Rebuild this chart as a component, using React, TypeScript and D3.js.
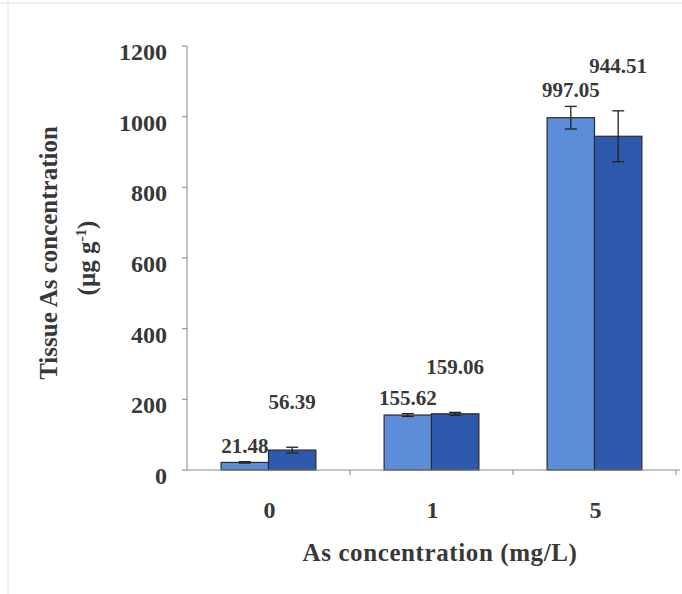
import React from 'react';
import * as d3 from 'd3';

// data
const categories = ['0', '1', '5'];
const seriesA = [21.48, 155.62, 997.05];
const seriesB = [56.39, 159.06, 944.51];
const errA = [2, 4, 32];
const errB = [8, 4, 72];
const yTicks = [0, 200, 400, 600, 800, 1000, 1200];

const W = 682;
const H = 594;
const margin = { top: 46, right: 6, bottom: 124, left: 187 };
const font = '"Liberation Serif", "Times New Roman", serif';
const textColor = '#383838';

const App = () => {
  const x = d3
    .scaleBand()
    .domain(categories)
    .range([margin.left, margin.left + 489]);

  const inner = d3
    .scaleBand()
    .domain(['A', 'B'])
    .range([0, x.bandwidth()])
    .paddingOuter(0.72)
    .paddingInner(0);

  const y = d3
    .scaleLinear()
    .domain([0, 1200])
    .range([H - margin.bottom, margin.top]);

  const series = [
    { key: 'A', values: seriesA, errs: errA, fill: '#5b8dd8', lift: 9 },
    { key: 'B', values: seriesB, errs: errB, fill: '#2e5aae', lift: 38 },
  ];

  const y0 = y(0);
  const boundaries = categories.map((c) => (x(c) as number) + x.bandwidth());

  return (
    <svg
      width={W}
      height={H}
      style={{ position: 'absolute', left: 0, top: 0, background: '#fff' }}
    >
      {/* faint frame from the scan */}
      <line x1={0} x2={W} y1={3} y2={3} stroke="#ddd" />
      <line x1={8} x2={8} y1={0} y2={H} stroke="#e4e4e4" />

      {/* y axis */}
      <line x1={margin.left} x2={margin.left} y1={y(1200)} y2={y0} stroke="#888" />
      {yTicks.map((t) => (
        <g key={t}>
          <line x1={margin.left - 5} x2={margin.left} y1={y(t)} y2={y(t)} stroke="#888" />
          <text
            x={margin.left - 20}
            y={y(t) + 14}
            textAnchor="end"
            fontFamily={font}
            fontWeight="bold"
            fontSize={24}
            fill={textColor}
          >
            {t}
          </text>
        </g>
      ))}

      {/* bars */}
      {series.map((s) =>
        categories.map((c, i) => {
          const bx = (x(c) as number) + (inner(s.key) as number);
          const bw = inner.bandwidth();
          const v = s.values[i];
          const e = s.errs[i];
          const cx = bx + bw / 2;
          return (
            <g key={s.key + c}>
              <rect
                x={bx}
                y={y(v)}
                width={bw}
                height={y0 - y(v)}
                fill={s.fill}
                stroke="#2a2a2a"
                strokeWidth={1.2}
              />
              <line x1={cx} x2={cx} y1={y(v + e)} y2={y(v - e)} stroke="#222" strokeWidth={1.3} />
              <line x1={cx - 6} x2={cx + 6} y1={y(v + e)} y2={y(v + e)} stroke="#222" strokeWidth={1.3} />
              <line x1={cx - 6} x2={cx + 6} y1={y(v - e)} y2={y(v - e)} stroke="#222" strokeWidth={1.3} />
              <text
                x={cx}
                y={y(v + e) - s.lift}
                textAnchor="middle"
                fontFamily={font}
                fontWeight="bold"
                fontSize={21}
                fill={textColor}
              >
                {v.toFixed(2)}
              </text>
            </g>
          );
        })
      )}

      {/* x axis */}
      <line x1={margin.left} x2={W - 2} y1={y0} y2={y0} stroke="#888" />
      {boundaries.map((b, i) => (
        <line key={i} x1={b} x2={b} y1={y0} y2={y0 + 5} stroke="#888" />
      ))}
      {categories.map((c) => (
        <text
          key={c}
          x={(x(c) as number) + x.bandwidth() / 2 + 1}
          y={y0 + 48}
          textAnchor="middle"
          fontFamily={font}
          fontWeight="bold"
          fontSize={24}
          fill={textColor}
        >
          {c}
        </text>
      ))}

      {/* axis titles */}
      <text
        x={440}
        y={561}
        textAnchor="middle"
        fontFamily={font}
        fontWeight="bold"
        fontSize={25}
        letterSpacing={0.6}
        fill={textColor}
      >
        As concentration (mg/L)
      </text>
      <text
        transform="translate(57,253) rotate(-90)"
        textAnchor="middle"
        fontFamily={font}
        fontWeight="bold"
        fontSize={25}
        fill={textColor}
      >
        Tissue As concentration
      </text>
      <text
        transform="translate(95,258) rotate(-90)"
        textAnchor="middle"
        fontFamily={font}
        fontWeight="bold"
        fontSize={25}
        fill={textColor}
      >
        (µg g
        <tspan dy={-9} fontSize={15}>-1</tspan>
        <tspan dy={9}>)</tspan>
      </text>
    </svg>
  );
};

export default App;
